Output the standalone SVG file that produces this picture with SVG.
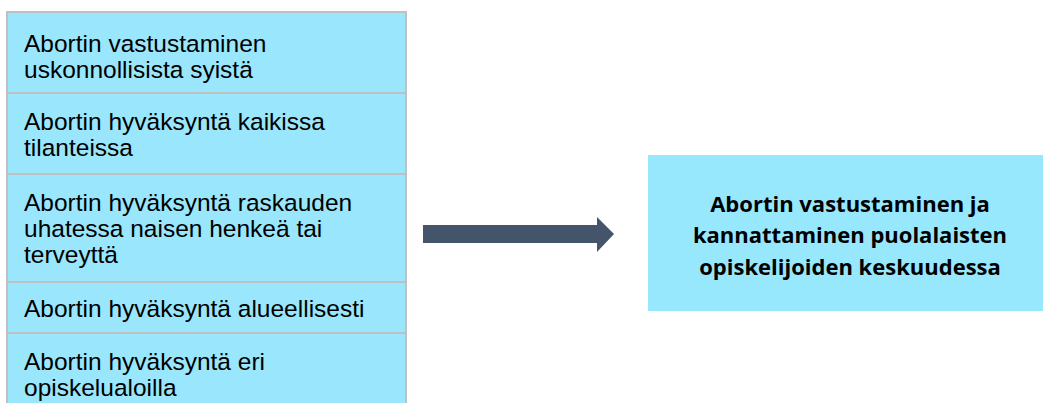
<svg xmlns="http://www.w3.org/2000/svg" width="1043" height="403" viewBox="0 0 1043 403">
  <defs>
    <style>
      .cell { fill: #99E6FD; stroke: #C0C0C0; stroke-width: 2; }
      .ct { font-family: "Liberation Sans", Arial, sans-serif; font-size: 24.5px; fill: #000; }
      .box { fill: #97E7FD; }
      .bt { font-family: "Open Sans", "Liberation Sans", sans-serif; font-weight: 700; font-size: 22px; fill: #000; text-anchor: middle; }
      .arrow { fill: #44546A; }
    </style>
  </defs>
  <rect width="1043" height="403" fill="#FFFFFF"/>
  <g id="node-1">
    <rect class="cell" x="7" y="12" width="399" height="81"/>
    <text class="ct" x="24" y="52">Abortin vastustaminen</text>
    <text class="ct" x="24" y="78">uskonnollisista syistä</text>
  </g>
  <g id="node-2">
    <rect class="cell" x="7" y="93" width="399" height="81"/>
    <text class="ct" x="24" y="130">Abortin hyväksyntä kaikissa</text>
    <text class="ct" x="24" y="156">tilanteissa</text>
  </g>
  <g id="node-3">
    <rect class="cell" x="7" y="174" width="399" height="108"/>
    <text class="ct" x="24" y="211">Abortin hyväksyntä raskauden</text>
    <text class="ct" x="24" y="237">uhatessa naisen henkeä tai</text>
    <text class="ct" x="24" y="263">terveyttä</text>
  </g>
  <g id="node-4">
    <rect class="cell" x="7" y="282" width="399" height="51"/>
    <text class="ct" x="24" y="317">Abortin hyväksyntä alueellisesti</text>
  </g>
  <g id="node-5">
    <rect class="cell" x="7" y="333" width="399" height="80"/>
    <text class="ct" x="24" y="370">Abortin hyväksyntä eri</text>
    <text class="ct" x="24" y="396">opiskelualoilla</text>
  </g>
  <g id="node-6">
    <rect class="box" x="648" y="155" width="400" height="156"/>
    <text class="bt" x="850" y="212">Abortin vastustaminen ja</text>
    <text class="bt" x="850" y="243">kannattaminen puolalaisten</text>
    <text class="bt" x="850" y="275">opiskelijoiden keskuudessa</text>
  </g>
  <g id="connectors">
    <path class="arrow" d="M423 225 H597 V217 L614 234 L597 252 V243 H423 Z"/>
  </g>
</svg>
